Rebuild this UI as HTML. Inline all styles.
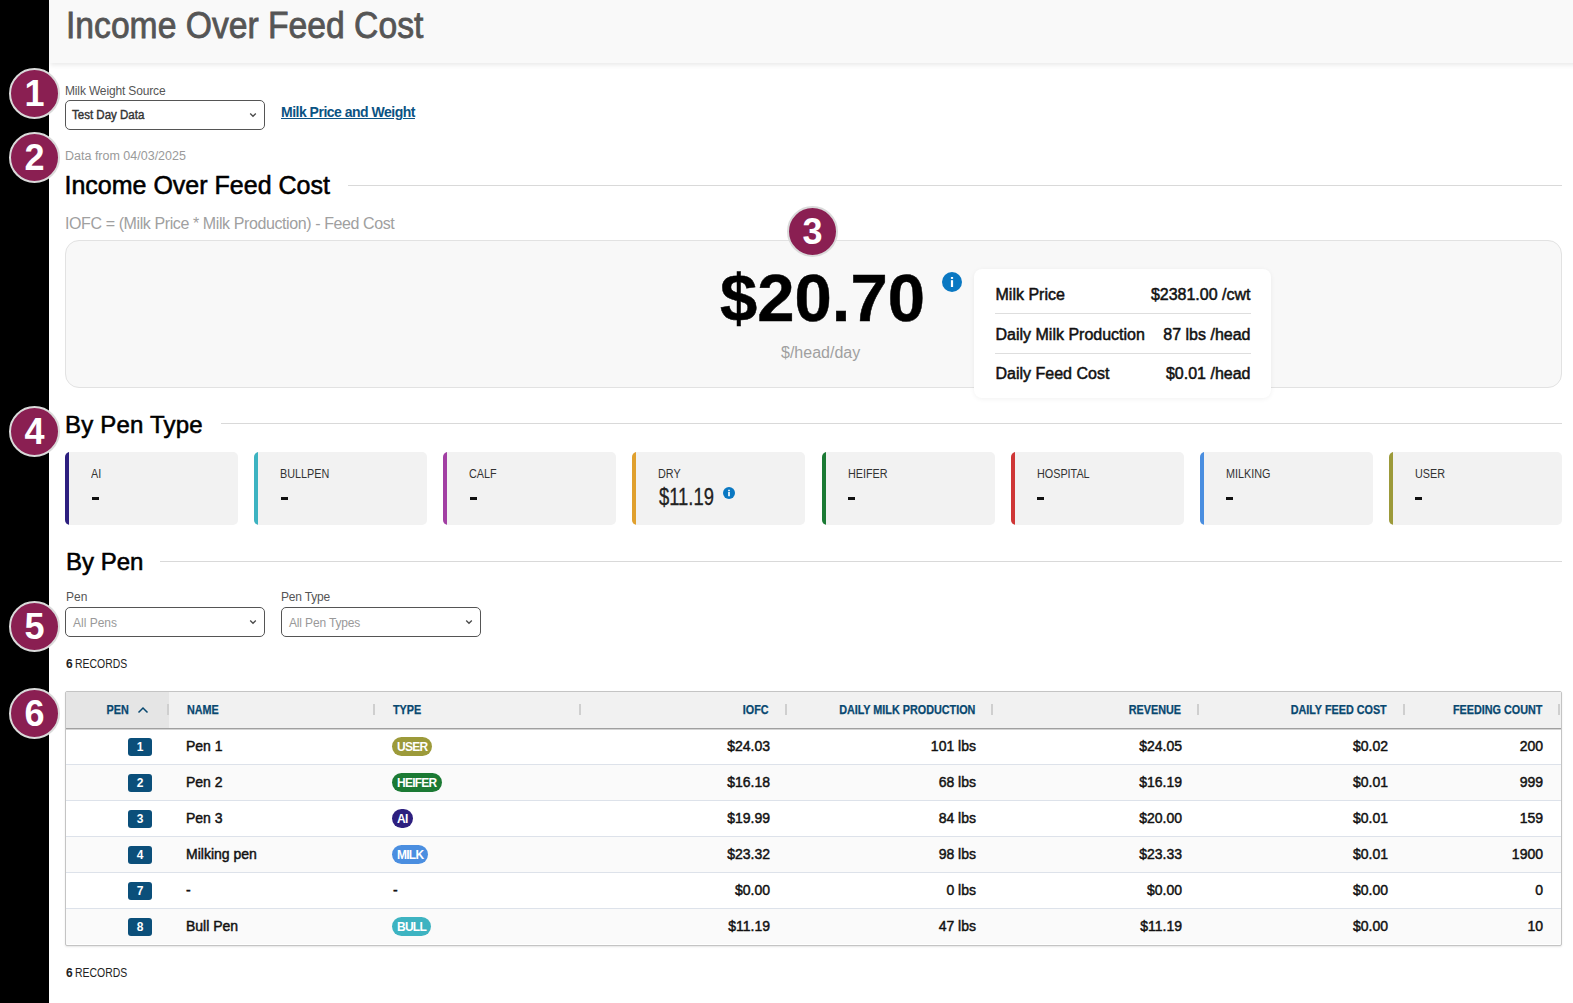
<!DOCTYPE html>
<html><head><meta charset="utf-8">
<style>
*{box-sizing:border-box;margin:0;padding:0}
html,body{width:1573px;height:1003px;overflow:hidden;background:#fff;font-family:"Liberation Sans",sans-serif;color:#000}
.a{position:absolute;white-space:nowrap}
#strip{position:absolute;left:0;top:0;width:49px;height:1003px;background:#000}
#hdr{position:absolute;left:50px;top:0;width:1560px;height:63px;background:#f9f9f9;box-shadow:0 2px 5px rgba(0,0,0,0.09)}
.badge{position:absolute;width:51px;height:51px;border-radius:50%;background:#8a1f52;border:2px solid #dadada;color:#fff;font-weight:700;font-size:36px;line-height:47px;text-align:center;z-index:5}
.sel{position:absolute;height:30px;width:200px;border:1px solid #555;border-radius:5px;background:#fff}
.chev{position:absolute;left:183px;top:10px;width:8px;height:8px}
.rule{position:absolute;height:1px;background:#d9d9d9}
.med{-webkit-text-stroke:0.35px currentColor}
.card{position:absolute;background:#f2f2f2;border-radius:5px;top:452px;height:73px;width:173px;overflow:hidden}
.card .bar{position:absolute;left:0;top:0;width:4px;height:73px}
.card .lbl{position:absolute;left:26px;top:15px;font-size:12px;line-height:14px;color:#333;transform:scaleX(0.9);transform-origin:left}
.card .val{position:absolute;left:26px;top:33.5px;font-size:23px;line-height:22px;color:#111;font-weight:700}
.card .val.dry{font-weight:400;font-size:23px;line-height:23px;top:34px;left:27px;color:#222;transform:scaleX(0.8);transform-origin:left;-webkit-text-stroke:0.3px #222}
.info-s{position:absolute;left:91px;top:35px;width:12px;height:12px;border-radius:50%;background:#1b7bc4;color:#fff;font-size:9px;line-height:12px;font-weight:700;text-align:center}
.th{top:704px;font-size:12px;line-height:12px;font-weight:700;color:#084870;-webkit-text-stroke:0.25px #084870;transform:scaleX(0.9);transform-origin:right}
.th.l{transform-origin:left}
.td{font-size:14px;line-height:36px;color:#111;-webkit-text-stroke:0.45px #111}
.pnum{width:24px;height:18px;border-radius:3px;background:#0b4f7a;color:#fff;font-weight:700;font-size:12px;line-height:18px;text-align:center}
.pill{height:19px;border-radius:10px;padding:0 5px;color:#fff;font-weight:700;font-size:12px;line-height:21px;letter-spacing:-0.75px;overflow:hidden}
</style></head><body>
<div id="strip"></div>
<div id="hdr"></div>
<div class="a med" style="left:66px;top:8px;font-size:36px;line-height:36px;color:#555;transform:scaleX(0.935);transform-origin:left;-webkit-text-stroke:0.8px #555">Income Over Feed Cost</div>
<div class="badge" style="left:9px;top:68px">1</div>
<div class="badge" style="left:9px;top:132px">2</div>
<div class="badge" style="left:787px;top:206px">3</div>
<div class="badge" style="left:9px;top:406px">4</div>
<div class="badge" style="left:9px;top:601px">5</div>
<div class="badge" style="left:9px;top:688px">6</div>
<div class="a" style="left:65px;top:84.5px;font-size:12px;line-height:12px;color:#555;letter-spacing:-0.15px">Milk Weight Source</div>
<div class="sel" style="left:65px;top:100px"><div class="a" style="left:5.5px;top:8px;font-size:12px;line-height:12px;color:#333;-webkit-text-stroke:0.4px #333;transform:scaleX(0.96);transform-origin:left">Test Day Data</div><svg class="chev" viewBox="0 0 8 8"><path d="M1.2 2.5 L4 5.3 L6.8 2.5" fill="none" stroke="#4a4a4a" stroke-width="1.3"/></svg></div>
<div class="a" style="left:281px;top:105px;font-size:14px;line-height:14px;font-weight:700;color:#0b5383;text-decoration:underline;letter-spacing:-0.5px">Milk Price and Weight</div>
<div class="a" style="left:65px;top:150px;font-size:12.5px;line-height:12px;color:#9a9a9a">Data from 04/03/2025</div>
<div class="a med" style="left:64.5px;top:173px;font-size:25px;line-height:25px;color:#000;letter-spacing:0px;-webkit-text-stroke:0.55px #000">Income Over Feed Cost</div>
<div class="rule" style="left:348px;top:185px;width:1214px"></div>
<div class="a" style="left:65px;top:216px;font-size:16px;line-height:16px;color:#a0a0a0;letter-spacing:-0.4px">IOFC = (Milk Price * Milk Production) - Feed Cost</div>
<div class="a" style="left:65px;top:240px;width:1497px;height:148px;background:#f8f8f8;border:1px solid #e2e2e2;border-radius:14px"></div>
<div class="a" style="left:720px;top:264px;font-size:67px;line-height:67px;font-weight:700;color:#000;-webkit-text-stroke:0.5px #000">$20.70</div>
<svg class="a" style="left:942px;top:272px" width="20" height="20" viewBox="0 0 20 20"><circle cx="10" cy="10" r="10" fill="#0a78c2"/><rect x="8.9" y="5" width="2.2" height="1.9" fill="#fff"/><rect x="8.9" y="8.2" width="2.2" height="6.8" fill="#fff"/></svg>
<div class="a" style="left:781px;top:345px;font-size:16px;line-height:16px;color:#a0a0a0">$/head/day</div>
<div class="a" style="left:974px;top:269px;width:297px;height:129px;background:#fff;border-radius:8px;box-shadow:0 1px 5px rgba(0,0,0,0.06)"></div>
<div class="a" style="left:995.5px;top:287px;font-size:16px;line-height:16px;color:#111;-webkit-text-stroke:0.5px #111">Milk Price</div>
<div class="a" style="right:322.5px;top:287px;font-size:16px;line-height:16px;color:#111;-webkit-text-stroke:0.5px #111">$2381.00 /cwt</div>
<div class="rule" style="left:995px;top:313px;width:256px;background:#dedede"></div>
<div class="a" style="left:995.5px;top:326.5px;font-size:16px;line-height:16px;color:#111;-webkit-text-stroke:0.5px #111">Daily Milk Production</div>
<div class="a" style="right:322.5px;top:326.5px;font-size:16px;line-height:16px;color:#111;-webkit-text-stroke:0.5px #111">87 lbs /head</div>
<div class="rule" style="left:995px;top:353px;width:256px;background:#dedede"></div>
<div class="a" style="left:995.5px;top:366px;font-size:16px;line-height:16px;color:#111;-webkit-text-stroke:0.5px #111">Daily Feed Cost</div>
<div class="a" style="right:322.5px;top:366px;font-size:16px;line-height:16px;color:#111;-webkit-text-stroke:0.5px #111">$0.01 /head</div>
<div class="a" style="left:65px;top:413px;font-size:24px;line-height:24px;color:#000;letter-spacing:0.2px;-webkit-text-stroke:0.55px #000">By Pen Type</div>
<div class="rule" style="left:221px;top:423px;width:1341px"></div>
<div class="card" style="left:65.00px"><div class="bar" style="background:#2d1f7f"></div><div class="lbl">AI</div><div style="position:absolute;left:26.5px;top:45px;width:7px;height:2.5px;background:#111"></div></div>
<div class="card" style="left:254.12px"><div class="bar" style="background:#3db3c1"></div><div class="lbl">BULLPEN</div><div style="position:absolute;left:26.5px;top:45px;width:7px;height:2.5px;background:#111"></div></div>
<div class="card" style="left:443.25px"><div class="bar" style="background:#a23fa3"></div><div class="lbl">CALF</div><div style="position:absolute;left:26.5px;top:45px;width:7px;height:2.5px;background:#111"></div></div>
<div class="card" style="left:632.38px"><div class="bar" style="background:#e0a02e"></div><div class="lbl">DRY</div><div class="val dry">$11.19</div><svg class="a" style="left:91px;top:35px" width="12" height="12" viewBox="0 0 20 20"><circle cx="10" cy="10" r="10" fill="#0a78c2"/><rect x="8.6" y="4.6" width="2.8" height="2.4" fill="#fff"/><rect x="8.6" y="8.2" width="2.8" height="7.2" fill="#fff"/></svg></div>
<div class="card" style="left:821.50px"><div class="bar" style="background:#1b7a34"></div><div class="lbl">HEIFER</div><div style="position:absolute;left:26.5px;top:45px;width:7px;height:2.5px;background:#111"></div></div>
<div class="card" style="left:1010.62px"><div class="bar" style="background:#cf3636"></div><div class="lbl">HOSPITAL</div><div style="position:absolute;left:26.5px;top:45px;width:7px;height:2.5px;background:#111"></div></div>
<div class="card" style="left:1199.75px"><div class="bar" style="background:#4a8ee0"></div><div class="lbl">MILKING</div><div style="position:absolute;left:26.5px;top:45px;width:7px;height:2.5px;background:#111"></div></div>
<div class="card" style="left:1388.88px"><div class="bar" style="background:#9c9a3a"></div><div class="lbl">USER</div><div style="position:absolute;left:26.5px;top:45px;width:7px;height:2.5px;background:#111"></div></div>
<div class="a" style="left:66px;top:550px;font-size:24px;line-height:24px;color:#000;-webkit-text-stroke:0.55px #000">By Pen</div>
<div class="rule" style="left:160px;top:561px;width:1402px"></div>
<div class="a" style="left:66px;top:590.5px;font-size:12px;line-height:12px;color:#555">Pen</div>
<div class="a" style="left:281px;top:590.5px;font-size:12px;line-height:12px;color:#555;letter-spacing:-0.2px">Pen Type</div>
<div class="sel" style="left:65px;top:607px"><div class="a" style="left:7px;top:8.5px;font-size:12px;line-height:12px;color:#999">All Pens</div><svg class="chev" viewBox="0 0 8 8"><path d="M1.2 2.5 L4 5.3 L6.8 2.5" fill="none" stroke="#4a4a4a" stroke-width="1.3"/></svg></div>
<div class="sel" style="left:281px;top:607px"><div class="a" style="left:7px;top:8.5px;font-size:12px;line-height:12px;color:#999;letter-spacing:-0.15px">All Pen Types</div><svg class="chev" viewBox="0 0 8 8"><path d="M1.2 2.5 L4 5.3 L6.8 2.5" fill="none" stroke="#4a4a4a" stroke-width="1.3"/></svg></div>
<div class="a" style="left:66px;top:658px;font-size:12px;line-height:12px;color:#222"><b>6</b><span style="position:absolute;left:9px;transform:scaleX(0.87);transform-origin:left">RECORDS</span></div>
<div class="a" style="left:65px;top:691px;width:1497px;height:255px;border:1px solid #c4c4c4;border-radius:2px;background:#fff;box-shadow:0 1px 2px rgba(0,0,0,0.10)"></div>
<div class="a" style="left:66px;top:692px;width:1495px;height:37px;background:#f1f1f1;border-bottom:1px solid #a0a0a0;box-shadow:0 1px 0 #d4d4d4"></div>
<div class="a" style="left:66px;top:692px;width:103px;height:37px;background:#e5e5e5;border-bottom:1px solid #a0a0a0;box-shadow:0 1px 0 #d4d4d4"></div>
<div class="a" style="left:167px;top:704px;width:2px;height:11px;background:#cfcfcf"></div>
<div class="a" style="left:373px;top:704px;width:2px;height:11px;background:#cfcfcf"></div>
<div class="a" style="left:579px;top:704px;width:2px;height:11px;background:#cfcfcf"></div>
<div class="a" style="left:785px;top:704px;width:2px;height:11px;background:#cfcfcf"></div>
<div class="a" style="left:991px;top:704px;width:2px;height:11px;background:#cfcfcf"></div>
<div class="a" style="left:1197px;top:704px;width:2px;height:11px;background:#cfcfcf"></div>
<div class="a" style="left:1403px;top:704px;width:2px;height:11px;background:#cfcfcf"></div>
<div class="a" style="left:1558px;top:704px;width:2px;height:11px;background:#cfcfcf"></div>
<div class="a th" style="right:1444px">PEN</div>
<div class="a th l" style="left:187px">NAME</div>
<div class="a th l" style="left:393px">TYPE</div>
<div class="a th" style="right:804px">IOFC</div>
<div class="a th" style="right:598px">DAILY MILK PRODUCTION</div>
<div class="a th" style="right:392px">REVENUE</div>
<div class="a th" style="right:186px">DAILY FEED COST</div>
<div class="a th" style="right:31px">FEEDING COUNT</div>
<svg class="a" style="left:137px;top:706px" width="12" height="8" viewBox="0 0 12 8"><path d="M1.5 6.5 L6 2 L10.5 6.5" fill="none" stroke="#084870" stroke-width="1.5"/></svg>
<div class="a" style="left:66px;top:764px;width:1495px;height:1px;background:#dde2ea"></div>
<div class="a pnum" style="left:128px;top:738px">1</div>
<div class="a td" style="left:186px;top:728px">Pen 1</div>
<div class="a pill" style="left:392px;top:737px;background:#9c9a3a">USER</div>
<div class="a td" style="right:803px;top:728px">$24.03</div>
<div class="a td" style="right:597px;top:728px">101 lbs</div>
<div class="a td" style="right:391px;top:728px">$24.05</div>
<div class="a td" style="right:185px;top:728px">$0.02</div>
<div class="a td" style="right:30px;top:728px">200</div>
<div class="a" style="left:66px;top:765px;width:1495px;height:35px;background:#fafafa"></div>
<div class="a" style="left:66px;top:800px;width:1495px;height:1px;background:#dde2ea"></div>
<div class="a pnum" style="left:128px;top:774px">2</div>
<div class="a td" style="left:186px;top:764px">Pen 2</div>
<div class="a pill" style="left:392px;top:773px;background:#1b7a34">HEIFER</div>
<div class="a td" style="right:803px;top:764px">$16.18</div>
<div class="a td" style="right:597px;top:764px">68 lbs</div>
<div class="a td" style="right:391px;top:764px">$16.19</div>
<div class="a td" style="right:185px;top:764px">$0.01</div>
<div class="a td" style="right:30px;top:764px">999</div>
<div class="a" style="left:66px;top:836px;width:1495px;height:1px;background:#dde2ea"></div>
<div class="a pnum" style="left:128px;top:810px">3</div>
<div class="a td" style="left:186px;top:800px">Pen 3</div>
<div class="a pill" style="left:392px;top:809px;background:#2d1f7f">AI</div>
<div class="a td" style="right:803px;top:800px">$19.99</div>
<div class="a td" style="right:597px;top:800px">84 lbs</div>
<div class="a td" style="right:391px;top:800px">$20.00</div>
<div class="a td" style="right:185px;top:800px">$0.01</div>
<div class="a td" style="right:30px;top:800px">159</div>
<div class="a" style="left:66px;top:837px;width:1495px;height:35px;background:#fafafa"></div>
<div class="a" style="left:66px;top:872px;width:1495px;height:1px;background:#dde2ea"></div>
<div class="a pnum" style="left:128px;top:846px">4</div>
<div class="a td" style="left:186px;top:836px">Milking pen</div>
<div class="a pill" style="left:392px;top:845px;background:#4a8ee0">MILK</div>
<div class="a td" style="right:803px;top:836px">$23.32</div>
<div class="a td" style="right:597px;top:836px">98 lbs</div>
<div class="a td" style="right:391px;top:836px">$23.33</div>
<div class="a td" style="right:185px;top:836px">$0.01</div>
<div class="a td" style="right:30px;top:836px">1900</div>
<div class="a" style="left:66px;top:908px;width:1495px;height:1px;background:#dde2ea"></div>
<div class="a pnum" style="left:128px;top:882px">7</div>
<div class="a td" style="left:186px;top:872px">-</div>
<div class="a td" style="left:393px;top:872px">-</div>
<div class="a td" style="right:803px;top:872px">$0.00</div>
<div class="a td" style="right:597px;top:872px">0 lbs</div>
<div class="a td" style="right:391px;top:872px">$0.00</div>
<div class="a td" style="right:185px;top:872px">$0.00</div>
<div class="a td" style="right:30px;top:872px">0</div>
<div class="a" style="left:66px;top:909px;width:1495px;height:35px;background:#fafafa"></div>
<div class="a pnum" style="left:128px;top:918px">8</div>
<div class="a td" style="left:186px;top:908px">Bull Pen</div>
<div class="a pill" style="left:392px;top:917px;background:#3db3c1">BULL</div>
<div class="a td" style="right:803px;top:908px">$11.19</div>
<div class="a td" style="right:597px;top:908px">47 lbs</div>
<div class="a td" style="right:391px;top:908px">$11.19</div>
<div class="a td" style="right:185px;top:908px">$0.00</div>
<div class="a td" style="right:30px;top:908px">10</div>
<div class="a" style="left:66px;top:967px;font-size:12px;line-height:12px;color:#222"><b>6</b><span style="position:absolute;left:9px;transform:scaleX(0.87);transform-origin:left">RECORDS</span></div>
</body></html>
